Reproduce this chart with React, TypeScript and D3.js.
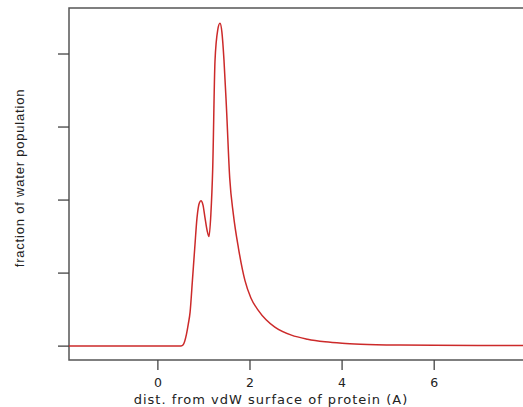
import React from 'react'
import * as d3 from 'd3'

// distance from vdW surface (A) and fraction of water population (tick units)
const distX = [
  -1.93, -1.0, 0.0, 0.4, 0.5, 0.55, 0.62, 0.66, 0.7, 0.75, 0.8, 0.85, 0.9, 0.935, 0.98, 1.02, 1.07, 1.11,
  1.15, 1.19, 1.24, 1.3, 1.348, 1.39, 1.435, 1.49, 1.56, 1.64, 1.75, 1.89, 2.02, 2.18, 2.35,
  2.54, 2.9, 3.25, 3.63, 4.0, 4.4, 5.26, 6.0, 7.0, 7.95
]
const fraction = [
  0, 0, 0, 0, 0.003, 0.02, 0.16, 0.3, 0.47, 0.9, 1.34, 1.76, 1.96, 1.99, 1.93, 1.77, 1.58, 1.5,
  1.8, 2.42, 3.9, 4.33, 4.42, 4.3, 3.92, 3.25, 2.3, 1.8, 1.34, 0.9, 0.66, 0.49, 0.36,
  0.26, 0.15, 0.095, 0.06, 0.04, 0.027, 0.015, 0.012, 0.01, 0.01
]
const xTicks = [0, 2, 4, 6]
const yTicks = [0, 1, 2, 3, 4]

const W = 523
const H = 407
const left = 69
const top = 8
const bottom = 360
const right = 526

export default function App() {
  const x = d3.scaleLinear().domain([-1.93, 7.95]).range([left, 524])
  const y = d3.scaleLinear().domain([-0.19, 4.63]).range([bottom, top])
  const pts = distX.map((d, i) => [d, fraction[i]] as [number, number])
  const line = d3
    .line<[number, number]>()
    .x(d => x(d[0]))
    .y(d => y(d[1]))
    .curve(d3.curveMonotoneX)

  const font = '"DejaVu Sans", sans-serif'

  return (
    <svg
      width={W}
      height={H}
      style={{ position: 'absolute', left: 0, top: 0, background: '#fff' }}
    >
      <rect x={left} y={top} width={right - left} height={bottom - top} fill="none" stroke="#555" strokeWidth={1.5} />
      {yTicks.map(t => (
        <line key={t} x1={left - 11} x2={left} y1={y(t)} y2={y(t)} stroke="#444" strokeWidth={1.3} />
      ))}
      {xTicks.map(t => (
        <g key={t}>
          <line x1={x(t)} x2={x(t)} y1={bottom} y2={bottom + 10} stroke="#444" strokeWidth={1.3} />
          <text x={x(t)} y={387} textAnchor="middle" fontSize={12.5} fontFamily={font} fill="#222">
            {t}
          </text>
        </g>
      ))}
      <path d={line(pts) || ''} fill="none" stroke="#cc2a2a" strokeWidth={1.5} />
      <text x={271} y={404} textAnchor="middle" fontSize={13} letterSpacing={1} fontFamily={font} fill="#222">
        dist. from vdW surface of protein (A)
      </text>
      <text
        transform="translate(24,178) rotate(-90)"
        textAnchor="middle"
        fontSize={13}
        letterSpacing={0.8}
        fontFamily='"Liberation Sans", Arial, sans-serif'
        fill="#222"
      >
        fraction of water population
      </text>
    </svg>
  )
}
